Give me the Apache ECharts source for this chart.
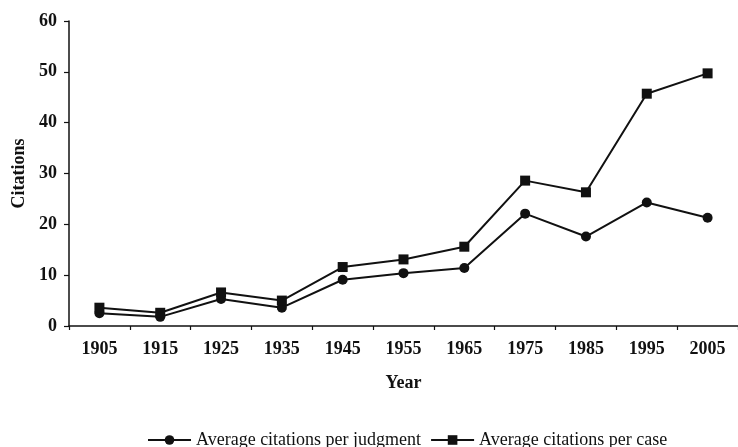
<!DOCTYPE html>
<html>
<head>
<meta charset="utf-8">
<script src="https://cdn.jsdelivr.net/npm/echarts@6/dist/echarts.min.js"></script>
<style>
  html, body { margin: 0; padding: 0; background: #fff; }
  #chart { width: 738px; height: 447px; }
</style>
</head>
<body>
<div id="chart"></div>
<script>
const years = ['1905','1915','1925','1935','1945','1955','1965','1975','1985','1995','2005'];
const perJudgment = [2.5, 1.8, 5.3, 3.6, 9.1, 10.4, 11.4, 22.1, 17.6, 24.3, 21.3];
const perCase = [3.6, 2.6, 6.6, 5.0, 11.6, 13.1, 15.6, 28.6, 26.3, 45.7, 49.7];
const yTicks = { min: 0, max: 60, interval: 10 };

const font = '"Liberation Serif", "DejaVu Serif", serif';
const ink = '#111';

const chart = echarts.init(document.getElementById('chart'), null, { renderer: 'canvas' });
chart.setOption({
  backgroundColor: '#fff',
  animation: false,
  grid: { left: 69, top: 21, width: 678, height: 305 },
  legend: {
    left: 142, top: 426,
    itemWidth: 43, itemHeight: 12, itemGap: 9,
    textStyle: { fontFamily: font, fontSize: 18, color: ink },
    data: ['Average citations per judgment', 'Average citations per case']
  },
  xAxis: {
    type: 'category',
    data: years,
    boundaryGap: true,
    name: 'Year',
    nameLocation: 'middle',
    nameGap: 48,
    nameTextStyle: { fontFamily: font, fontSize: 18, fontWeight: 'bold', color: ink },
    axisLine: { lineStyle: { color: ink, width: 1.5 } },
    axisTick: { show: true, length: 4, lineStyle: { color: ink, width: 1.2 } },
    axisLabel: { margin: 14, fontFamily: font, fontSize: 18, fontWeight: 'bold', color: ink },
    splitLine: { show: false }
  },
  yAxis: {
    type: 'value',
    min: yTicks.min, max: yTicks.max, interval: yTicks.interval,
    name: 'Citations',
    nameLocation: 'middle',
    nameGap: 40,
    nameRotate: 90,
    nameTextStyle: { fontFamily: font, fontSize: 18, fontWeight: 'bold', color: ink },
    axisLine: { show: true, lineStyle: { color: ink, width: 1.5 } },
    axisTick: { show: true, length: 5, lineStyle: { color: ink, width: 1.2 } },
    axisLabel: { margin: 12, fontFamily: font, fontSize: 18, fontWeight: 'bold', color: ink },
    splitLine: { show: false }
  },
  series: [
    {
      name: 'Average citations per judgment',
      type: 'line',
      data: perJudgment,
      symbol: 'circle', symbolSize: 10,
      lineStyle: { color: ink, width: 2 },
      itemStyle: { color: ink }
    },
    {
      name: 'Average citations per case',
      type: 'line',
      data: perCase,
      symbol: 'rect', symbolSize: 10,
      lineStyle: { color: ink, width: 2 },
      itemStyle: { color: ink }
    }
  ]
});
</script>
</body>
</html>
